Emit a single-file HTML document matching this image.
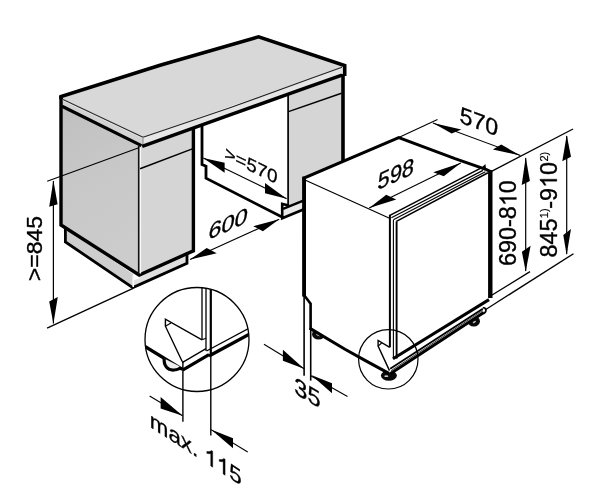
<!DOCTYPE html>
<html><head><meta charset="utf-8"><title>Diagram</title>
<style>
html,body{margin:0;padding:0;background:#fff;}
svg{display:block;}
text{font-family:"Liberation Sans",sans-serif;fill:#000;stroke:#000;stroke-width:0.35px;}
</style></head><body>
<svg style="filter:grayscale(1)" width="600" height="503" viewBox="0 0 600 503">
<rect width="600" height="503" fill="#fff"/>
<defs><linearGradient id="sg" x1="0" y1="0" x2="0.25" y2="1"><stop offset="0" stop-color="#bfbfbf"/><stop offset="0.45" stop-color="#c7c7c7"/><stop offset="1" stop-color="#cccccc"/></linearGradient></defs>
<polygon points="61.00,100.00 139.00,146.00 139.00,275.00 61.00,225.00" fill="url(#sg)" stroke="none" stroke-width="0" />
<polygon points="139.00,146.00 193.50,128.26 193.50,250.80 139.00,275.00" fill="#d5d5d5" stroke="none" stroke-width="0" />
<polygon points="288.00,94.49 343.00,74.84 343.00,165.00 304.00,182.00 304.00,200.50 288.00,207.00" fill="#d5d5d5" stroke="none" stroke-width="0" />
<polygon points="65.40,228.00 133.00,274.00 133.00,287.50 65.40,242.00" fill="#cecece" stroke="none" stroke-width="0" />
<polygon points="133.50,276.00 187.00,252.00 187.00,263.50 133.50,288.00" fill="#e0e0e0" stroke="none" stroke-width="0" />
<polygon points="282.50,208.50 304.00,200.50 304.00,209.00 282.50,217.50" fill="#e9e9e9" stroke="none" stroke-width="0" />
<polygon points="133.60,273.20 139.60,276.40 139.60,278.60 134.00,280.00" fill="#fff" stroke="none" stroke-width="0" />
<polygon points="60.50,96.50 258.60,36.80 344.50,65.50 342.00,67.30 143.00,137.30 63.00,99.50" fill="#d8d8d8" stroke="none" stroke-width="0" />
<polygon points="63.00,99.50 143.00,137.30 143.00,145.00 63.00,106.00" fill="#d2d2d2" stroke="none" stroke-width="0" />
<polygon points="143.00,137.30 342.00,67.30 344.50,67.00 344.50,74.00 143.00,145.00" fill="#e6e6e6" stroke="none" stroke-width="0" />
<polyline points="63.00,100.40 143.00,138.20" fill="none" stroke="#f0f0f0" stroke-width="1.0" stroke-linecap="butt" stroke-linejoin="miter" />
<polyline points="63.00,99.50 143.00,137.30" fill="none" stroke="#2a2a2a" stroke-width="1.1" stroke-linecap="butt" stroke-linejoin="miter" />
<polyline points="143.00,137.30 230.00,107.80 310.00,78.70 342.00,67.30" fill="none" stroke="#222" stroke-width="1.1" stroke-linecap="butt" stroke-linejoin="miter" />
<polyline points="143.00,137.30 143.00,145.00" fill="none" stroke="#888" stroke-width="1.0" stroke-linecap="butt" stroke-linejoin="miter" />
<polyline points="62.00,106.20 141.50,145.60" fill="none" stroke="#000" stroke-width="3.2" stroke-linecap="butt" stroke-linejoin="miter" />
<polyline points="142.20,146.40 230.00,114.90 310.00,86.30 342.00,75.20" fill="none" stroke="#000" stroke-width="3.4" stroke-linecap="butt" stroke-linejoin="miter" />
<polyline points="61.00,99.00 61.00,96.60 160.00,65.20 258.60,36.80 344.70,65.60 344.70,76.00" fill="none" stroke="#000" stroke-width="3.6" stroke-linecap="butt" stroke-linejoin="miter" />
<polyline points="61.00,96.00 61.00,225.00 139.20,275.00 193.40,250.80 193.40,127.29" fill="none" stroke="#000" stroke-width="3.4" stroke-linecap="butt" stroke-linejoin="miter" />
<polyline points="138.80,146.00 138.80,274.00" fill="none" stroke="#111" stroke-width="1.8" stroke-linecap="butt" stroke-linejoin="miter" />
<polyline points="140.40,147.50 140.40,273.50" fill="none" stroke="#f8f8f8" stroke-width="1.4" stroke-linecap="butt" stroke-linejoin="miter" />
<polyline points="140.00,168.70 193.00,148.60" fill="none" stroke="#000" stroke-width="1.5" stroke-linecap="butt" stroke-linejoin="miter" />
<polyline points="65.40,228.00 65.40,242.00 132.80,287.60 187.00,263.40 187.00,252.50" fill="none" stroke="#000" stroke-width="2.8" stroke-linecap="butt" stroke-linejoin="miter" />
<polyline points="133.20,275.50 133.20,287.00" fill="none" stroke="#f8f8f8" stroke-width="1.6" stroke-linecap="butt" stroke-linejoin="miter" />
<polyline points="202.00,125.22 202.00,164.60 206.00,166.20 206.00,178.20 281.50,216.80" fill="none" stroke="#000" stroke-width="2.8" stroke-linecap="butt" stroke-linejoin="miter" />
<polyline points="288.10,94.49 288.10,206.00" fill="none" stroke="#000" stroke-width="1.7" stroke-linecap="butt" stroke-linejoin="miter" />
<polyline points="343.00,74.00 343.00,162.00" fill="none" stroke="#000" stroke-width="3.6" stroke-linecap="butt" stroke-linejoin="miter" />
<polyline points="288.50,111.60 341.50,93.30" fill="none" stroke="#000" stroke-width="1.5" stroke-linecap="butt" stroke-linejoin="miter" />
<polyline points="283.00,208.90 304.00,200.40" fill="none" stroke="#000" stroke-width="2.4" stroke-linecap="butt" stroke-linejoin="miter" />
<polyline points="289.00,205.40 282.20,203.90 282.20,218.30 304.00,209.20" fill="none" stroke="#000" stroke-width="2.6" stroke-linecap="butt" stroke-linejoin="miter" />
<polyline points="47.10,328.20 133.00,288.30" fill="none" stroke="#000" stroke-width="1.3" stroke-linecap="butt" stroke-linejoin="miter" />
<polyline points="47.20,181.20 138.80,147.80" fill="none" stroke="#000" stroke-width="1.2" stroke-linecap="butt" stroke-linejoin="miter" />
<polyline points="53.40,181.00 53.40,323.50" fill="none" stroke="#000" stroke-width="1.2" stroke-linecap="butt" stroke-linejoin="miter" />
<polygon points="53.40,180.40 49.20,206.80 57.60,204.30" fill="#000" stroke="none" stroke-width="0" />
<polygon points="53.40,323.80 49.20,301.40 57.80,297.10" fill="#000" stroke="none" stroke-width="0" />
<polyline points="190.00,259.60 279.20,219.20" fill="none" stroke="#000" stroke-width="1.1" stroke-linecap="butt" stroke-linejoin="miter" />
<polygon points="190.00,259.60 206.70,247.90 216.70,253.30" fill="#000" stroke="none" stroke-width="0" />
<polygon points="279.20,219.20 253.30,226.25 262.90,231.25" fill="#000" stroke="none" stroke-width="0" />
<polyline points="203.30,157.90 286.70,198.75" fill="none" stroke="#000" stroke-width="1.1" stroke-linecap="butt" stroke-linejoin="miter" />
<polygon points="203.30,157.90 224.60,162.70 224.60,172.70" fill="#000" stroke="none" stroke-width="0" />
<polygon points="286.70,198.75 265.00,182.90 265.00,193.30" fill="#000" stroke="none" stroke-width="0" />
<polygon points="304.00,178.00 398.75,137.50 486.00,170.00 490.50,172.00 490.50,298.00 394.00,358.50 389.00,372.50 310.50,329.00 310.50,304.00 304.20,296.00" fill="#fff" stroke="none" stroke-width="0" />
<ellipse cx="318.6" cy="334.3" rx="6.6" ry="5.2" fill="#0a0a0a"/>
<ellipse cx="318" cy="335" rx="2.2" ry="0.9" fill="#bbb" transform="rotate(25 318 335)"/>
<polygon points="310.40,320.00 330.00,320.00 330.00,339.50 310.40,327.80" fill="#fff" stroke="none" stroke-width="0" />
<ellipse cx="473.8" cy="321.2" rx="6.2" ry="5.2" fill="#0a0a0a"/>
<ellipse cx="474.4" cy="322" rx="1.8" ry="0.8" fill="#bbb" transform="rotate(-30 474.4 322)"/>
<polygon points="455.00,320.00 455.00,332.50 484.00,313.50 484.00,300.00" fill="#fff" stroke="none" stroke-width="0" />
<ellipse cx="388.9" cy="375.6" rx="8" ry="5.2" fill="#0a0a0a"/>
<ellipse cx="386.3" cy="376.2" rx="2.0" ry="0.9" fill="#ccc"/>
<polygon points="365.00,359.00 388.90,372.50 392.00,372.50 420.00,354.00 420.00,340.00 365.00,340.00" fill="#fff" stroke="none" stroke-width="0" />
<polyline points="305.00,180.00 389.50,218.20" fill="none" stroke="#000" stroke-width="1.2" stroke-linecap="butt" stroke-linejoin="miter" />
<polyline points="389.90,215.40 480.30,168.40" fill="none" stroke="#000" stroke-width="1.6" stroke-linecap="butt" stroke-linejoin="miter" />
<polyline points="391.40,217.70 483.00,170.40" fill="none" stroke="#000" stroke-width="1.2" stroke-linecap="butt" stroke-linejoin="miter" />
<polyline points="393.40,219.70 485.40,171.70" fill="none" stroke="#000" stroke-width="1.2" stroke-linecap="butt" stroke-linejoin="miter" />
<polyline points="396.40,221.40 488.00,172.80" fill="none" stroke="#000" stroke-width="1.6" stroke-linecap="butt" stroke-linejoin="miter" />
<polyline points="389.90,214.80 389.90,347.30" fill="none" stroke="#000" stroke-width="2.0" stroke-linecap="butt" stroke-linejoin="miter" />
<polyline points="393.40,220.00 393.40,358.60" fill="none" stroke="#000" stroke-width="1.1" stroke-linecap="butt" stroke-linejoin="miter" />
<polyline points="396.60,221.40 396.60,358.60" fill="none" stroke="#000" stroke-width="1.9" stroke-linecap="butt" stroke-linejoin="miter" />
<polyline points="490.30,297.50 490.30,171.50 486.50,169.60 455.00,158.70 398.75,137.50 304.00,178.00 304.20,296.50" fill="none" stroke="#000" stroke-width="3.0" stroke-linecap="butt" stroke-linejoin="miter" />
<polyline points="304.10,176.60 304.10,296.50" fill="none" stroke="#000" stroke-width="3.8" stroke-linecap="butt" stroke-linejoin="miter" />
<polyline points="303.60,294.50 310.60,303.80 310.60,329.00" fill="none" stroke="#000" stroke-width="2.6" stroke-linecap="butt" stroke-linejoin="miter" />
<polyline points="309.60,328.10 345.00,349.20 365.00,360.40 388.90,373.40" fill="none" stroke="#000" stroke-width="3.0" stroke-linecap="butt" stroke-linejoin="miter" />
<polyline points="490.30,298.00 490.30,170.20" fill="none" stroke="#000" stroke-width="4.4" stroke-linecap="butt" stroke-linejoin="miter" />
<polygon points="481.50,167.80 485.40,164.00 486.20,170.00" fill="#000" stroke="none" stroke-width="0" />
<polyline points="398.75,137.50 437.50,119.50" fill="none" stroke="#000" stroke-width="1.1" stroke-linecap="butt" stroke-linejoin="miter" />
<polyline points="393.00,358.80 489.00,299.60" fill="none" stroke="#000" stroke-width="3.0" stroke-linecap="butt" stroke-linejoin="miter" />
<polyline points="390.20,368.70 482.80,308.70" fill="none" stroke="#000" stroke-width="1.8" stroke-linecap="butt" stroke-linejoin="miter" />
<polyline points="391.00,370.70 482.80,310.50" fill="none" stroke="#222" stroke-width="0.9" stroke-linecap="butt" stroke-linejoin="miter" />
<polyline points="390.60,373.60 483.80,312.60" fill="none" stroke="#000" stroke-width="3.0" stroke-linecap="butt" stroke-linejoin="miter" />
<path d="M482.8,307.6 Q486.8,308 485.8,311 Q485.3,313.2 483.6,313.6" fill="none" stroke="#000" stroke-width="1.8"/>
<polyline points="389.70,347.30 378.10,340.50 378.10,346.10 389.50,370.60" fill="none" stroke="#000" stroke-width="1.4" stroke-linecap="butt" stroke-linejoin="miter" />
<polyline points="378.10,346.10 381.70,343.00" fill="none" stroke="#000" stroke-width="1.2" stroke-linecap="butt" stroke-linejoin="miter" />
<circle cx="388.3" cy="359.3" r="29.7" fill="none" stroke="#000" stroke-width="1.2"/>
<polyline points="304.10,296.00 304.10,375.70" fill="none" stroke="#000" stroke-width="1.6" stroke-linecap="butt" stroke-linejoin="miter" />
<polyline points="310.70,329.00 310.70,380.60" fill="none" stroke="#000" stroke-width="1.6" stroke-linecap="butt" stroke-linejoin="miter" />
<polyline points="264.00,344.30 304.10,368.70" fill="none" stroke="#000" stroke-width="1.1" stroke-linecap="butt" stroke-linejoin="miter" />
<polygon points="304.10,368.70 282.90,349.80 282.90,360.80" fill="#000" stroke="none" stroke-width="0" />
<polyline points="347.50,396.50 310.70,375.70" fill="none" stroke="#000" stroke-width="1.1" stroke-linecap="butt" stroke-linejoin="miter" />
<polygon points="311.20,375.00 332.00,383.30 332.00,393.30" fill="#000" stroke="none" stroke-width="0" />
<polyline points="369.20,207.90 460.80,162.90" fill="none" stroke="#000" stroke-width="1.1" stroke-linecap="butt" stroke-linejoin="miter" />
<polygon points="369.20,207.90 386.25,194.80 396.25,199.60" fill="#000" stroke="none" stroke-width="0" />
<polygon points="460.80,162.90 433.30,172.30 443.75,176.25" fill="#000" stroke="none" stroke-width="0" />
<polyline points="432.90,122.90 520.40,155.40" fill="none" stroke="#000" stroke-width="1.1" stroke-linecap="butt" stroke-linejoin="miter" />
<polygon points="432.90,122.90 461.30,129.60 451.70,133.60" fill="#000" stroke="none" stroke-width="0" />
<polygon points="520.40,155.40 501.25,144.60 492.90,149.60" fill="#000" stroke="none" stroke-width="0" />
<polyline points="491.00,171.60 573.00,129.00" fill="none" stroke="#000" stroke-width="1.3" stroke-linecap="butt" stroke-linejoin="miter" />
<polyline points="490.50,296.00 530.00,271.60" fill="none" stroke="#000" stroke-width="1.3" stroke-linecap="butt" stroke-linejoin="miter" />
<polyline points="485.00,310.00 573.50,253.70" fill="none" stroke="#000" stroke-width="1.3" stroke-linecap="butt" stroke-linejoin="miter" />
<polyline points="525.70,158.00 525.70,271.00" fill="none" stroke="#000" stroke-width="1.2" stroke-linecap="butt" stroke-linejoin="miter" />
<polygon points="525.70,157.30 521.70,185.00 529.90,181.00" fill="#000" stroke="none" stroke-width="0" />
<polygon points="525.70,271.70 521.90,251.70 530.60,245.70" fill="#000" stroke="none" stroke-width="0" />
<polyline points="566.70,136.00 566.70,254.00" fill="none" stroke="#000" stroke-width="1.2" stroke-linecap="butt" stroke-linejoin="miter" />
<polygon points="566.70,135.00 562.30,161.30 571.00,156.70" fill="#000" stroke="none" stroke-width="0" />
<polygon points="566.60,255.00 563.30,235.00 571.00,229.00" fill="#000" stroke="none" stroke-width="0" />
<clipPath id="cc"><circle cx="197" cy="339.5" r="52"/></clipPath>
<g clip-path="url(#cc)">
<polyline points="202.00,280.00 202.00,339.80" fill="none" stroke="#000" stroke-width="1.3" stroke-linecap="butt" stroke-linejoin="miter" />
<polyline points="206.00,280.00 206.00,350.90" fill="none" stroke="#000" stroke-width="1.3" stroke-linecap="butt" stroke-linejoin="miter" />
<polyline points="210.80,280.00 210.80,355.50" fill="none" stroke="#000" stroke-width="2.2" stroke-linecap="butt" stroke-linejoin="miter" />
<polyline points="209.00,356.00 260.00,328.50" fill="none" stroke="#000" stroke-width="3.4" stroke-linecap="butt" stroke-linejoin="miter" />
<polyline points="206.50,351.00 260.00,322.50" fill="none" stroke="#000" stroke-width="1.3" stroke-linecap="butt" stroke-linejoin="miter" />
<polyline points="182.60,370.20 209.00,354.60" fill="none" stroke="#000" stroke-width="3.2" stroke-linecap="butt" stroke-linejoin="miter" />
<polyline points="182.20,362.60 206.00,348.60" fill="none" stroke="#000" stroke-width="1.3" stroke-linecap="butt" stroke-linejoin="miter" />
<polyline points="130.00,337.40 182.40,369.40" fill="none" stroke="#000" stroke-width="3.4" stroke-linecap="butt" stroke-linejoin="miter" />
<polyline points="202.00,339.80 165.40,319.10 165.40,326.20 182.20,361.50" fill="none" stroke="#000" stroke-width="1.4" stroke-linecap="butt" stroke-linejoin="miter" />
<polyline points="165.40,326.20 171.00,323.00" fill="none" stroke="#000" stroke-width="1.2" stroke-linecap="butt" stroke-linejoin="miter" />
<polyline points="202.00,339.80 206.00,338.20" fill="none" stroke="#000" stroke-width="1.2" stroke-linecap="butt" stroke-linejoin="miter" />
<path d="M164.2,358.5 C163.5,366 168,370.6 174,370 C177.5,369.6 180,368.6 181,367" fill="#eee" stroke="#000" stroke-width="3.2"/>
</g>
<circle cx="197" cy="339.5" r="52" fill="none" stroke="#000" stroke-width="1.3"/>
<polyline points="182.90,361.00 182.90,421.70" fill="none" stroke="#000" stroke-width="1.4" stroke-linecap="butt" stroke-linejoin="miter" />
<polyline points="210.80,356.00 210.80,435.40" fill="none" stroke="#000" stroke-width="1.4" stroke-linecap="butt" stroke-linejoin="miter" />
<polyline points="149.60,396.00 182.60,415.80" fill="none" stroke="#000" stroke-width="1.1" stroke-linecap="butt" stroke-linejoin="miter" />
<polygon points="182.60,415.80 160.60,396.90 160.60,408.50" fill="#000" stroke="none" stroke-width="0" />
<polyline points="247.70,452.00 211.00,429.60" fill="none" stroke="#000" stroke-width="1.1" stroke-linecap="butt" stroke-linejoin="miter" />
<polygon points="211.00,429.60 233.00,438.20 233.00,448.30" fill="#000" stroke="none" stroke-width="0" />
<text transform="matrix(0.0000,-0.9580,0.9200,0.0000,42.00,281.20)" font-size="24" >&gt;=845</text>
<g transform="matrix(0.0000,-1.0000,1.0000,0.0000,516.40,266.00)">
<text x="0.00" y="0" font-size="23.4" xml:space="preserve">690-8</text>
<path transform="translate(59.83,0) scale(0.011426,-0.011426)" d="M763 0H583V1147Q518 1085 412.5 1023Q307 961 223 930V1104Q374 1175 487 1276Q600 1377 647 1472H763Z" fill="#000" stroke="#000" stroke-width="30.6"/>
<text x="72.84" y="0" font-size="23.4" xml:space="preserve">0</text>
</g>
<g transform="matrix(0,-1,1,0,556.8,257.5)">
<text x="0" y="0" font-size="23.4">845</text>
<text x="39.33" y="-9" font-size="11" style="stroke-width:0.2px">1)</text>
<text x="48.81" y="0" font-size="23.4">-9</text>
<path transform="translate(69.61,0) scale(0.011426,-0.011426)" d="M763 0H583V1147Q518 1085 412.5 1023Q307 961 223 930V1104Q374 1175 487 1276Q600 1377 647 1472H763Z" fill="#000" stroke="#000" stroke-width="30.6"/>
<text x="82.62" y="0" font-size="23.4">0</text>
<text x="95.93" y="-9" font-size="11" style="stroke-width:0.2px">2)</text>
</g>
<text transform="matrix(0.9572,0.3523,-0.0700,0.9500,459.20,122.30)" font-size="24" >570</text>
<text transform="matrix(0.9100,-0.4147,-0.0900,1.0000,377.10,190.30)" font-size="24" >598</text>
<text transform="matrix(0.9744,-0.4420,-0.1500,0.9600,207.50,240.30)" font-size="24" >600</text>
<text transform="matrix(0.7749,0.3729,-0.1000,0.7400,224.00,158.60)" font-size="24" >&gt;=570</text>
<text transform="matrix(0.9800,0.6000,0.0000,1.0000,294.30,393.00)" font-size="24" >35</text>
<g transform="matrix(0.9300,0.6000,0.0000,0.9300,149.80,426.70)">
<text x="0.00" y="0" font-size="24" xml:space="preserve">max. </text>
<path transform="translate(58.68,0) scale(0.011719,-0.011719)" d="M763 0H583V1147Q518 1085 412.5 1023Q307 961 223 930V1104Q374 1175 487 1276Q600 1377 647 1472H763Z" fill="#000" stroke="#000" stroke-width="29.9"/>
<path transform="translate(72.02,0) scale(0.011719,-0.011719)" d="M763 0H583V1147Q518 1085 412.5 1023Q307 961 223 930V1104Q374 1175 487 1276Q600 1377 647 1472H763Z" fill="#000" stroke="#000" stroke-width="29.9"/>
<text x="85.37" y="0" font-size="24" xml:space="preserve">5</text>
</g>
</svg>
</body></html>
